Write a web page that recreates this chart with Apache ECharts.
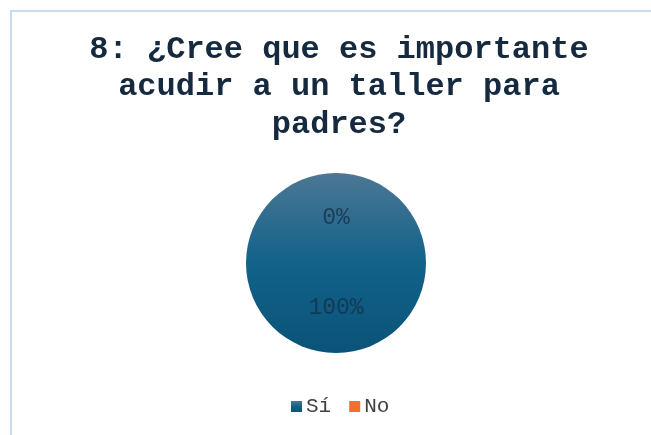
<!DOCTYPE html>
<html>
<head>
<meta charset="utf-8">
<script src="https://cdn.jsdelivr.net/npm/echarts@6/dist/echarts.min.js"></script>
<style>html,body{margin:0;padding:0;background:#fff}#c{width:651px;height:435px}</style>
</head>
<body>
<div id="c"></div>
<script>
const titleText = '8: ¿Cree que es importante\nacudir a un taller para\npadres?';
const categories = ['Sí', 'No'];
const values = [100, 0];
const colors = [null, '#f07032'];

const chart = echarts.init(document.getElementById('c'));
const pieGrad = new echarts.graphic.LinearGradient(0, 0, 0, 1, [
  { offset: 0, color: '#4c7794' },
  { offset: 0.5, color: '#12628a' },
  { offset: 1, color: '#0a5378' }
]);
chart.setOption({
  animation: false,
  graphic: [{
    type: 'rect', shape: { x: 11, y: 11, width: 700, height: 500 },
    style: { fill: 'none', stroke: '#c8dcf1', lineWidth: 2 }, silent: true, z: -1
  }],
  title: {
    text: titleText,
    left: 334, top: 26, textAlign: 'center',
    textStyle: { fontFamily: 'Liberation Mono', fontWeight: 'bold', fontSize: 32, lineHeight: 37.5, color: '#15293f' }
  },
  legend: {
    data: categories,
    left: 286, top: 391,
    icon: 'rect', itemWidth: 11, itemHeight: 11, itemGap: 18,
    textStyle: { fontFamily: 'Liberation Mono', fontSize: 21, color: '#404040', padding: [0, 0, 0, -1] }
  },
  series: [{
    type: 'pie',
    center: [336, 263], radius: [0, 90],
    startAngle: 90, clockwise: true,
    label: {
      show: true, position: 'inside', formatter: '{d}%',
      fontFamily: 'Liberation Mono', fontSize: 23, color: 'rgba(20,45,70,0.75)'
    },
    labelLine: { show: false },
    itemStyle: { borderWidth: 0 },
    data: categories.map((c, i) => ({
      name: c, value: values[i],
      itemStyle: { color: i === 0 ? pieGrad : colors[i] },
      label: { offset: [0, i === 0 ? -3 : 3] }
    }))
  }]
});
</script>
</body>
</html>
